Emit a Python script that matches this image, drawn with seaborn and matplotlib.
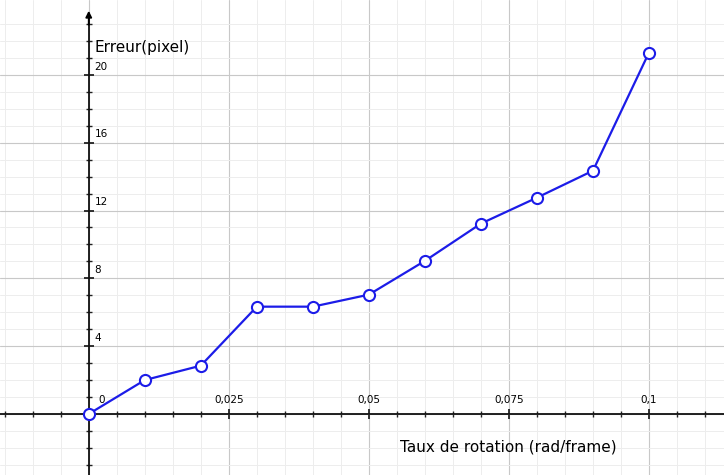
import numpy as np
import pandas as pd
import matplotlib
matplotlib.use('Agg')
import matplotlib.pyplot as plt
import seaborn as sns

# valeurs
taux = [0.0, 0.01, 0.02, 0.03, 0.04, 0.05, 0.06, 0.07, 0.08, 0.09, 0.1]
erreur = [0.0, 2.0, 2.85, 6.33, 6.33, 7.04, 9.03, 11.23, 12.76, 14.35, 21.32]
x_major = [0.025, 0.05, 0.075, 0.1]
x_labels = ['0,025', '0,05', '0,075', '0,1']
y_major = [4, 8, 12, 16, 20]

data = pd.DataFrame({'taux': taux, 'erreur': erreur})

sns.set_style('white')
plt.rcParams['font.family'] = ['DejaVu Sans']
plt.rcParams['text.color'] = 'black'

fig = plt.figure(figsize=(7.24, 4.75), dpi=100)
ax = fig.add_axes([0, 0, 1, 1])

xmin, xmax = -0.01584, 0.11339
ymin, ymax = -3.6, 24.42
ax.set_xlim(xmin, xmax)
ax.set_ylim(ymin, ymax)

# grille type geogebra
ax.set_xticks(np.arange(-0.025, 0.126, 0.025))
ax.set_xticks(np.arange(-0.015, 0.115, 0.005), minor=True)
ax.set_yticks(np.arange(-4, 21, 4))
ax.set_yticks(np.arange(-3, 24, 1), minor=True)
ax.grid(which='major', color='#c8c8c8', lw=0.8)
ax.grid(which='minor', color='#ededed', lw=0.7)
ax.set_axisbelow(True)

# axes passant par l'origine
for s in ['top', 'right']:
    ax.spines[s].set_visible(False)
ax.spines['left'].set_position(('data', 0))
ax.spines['bottom'].set_position(('data', 0))
ax.spines['left'].set_bounds(ymin, 23.5)
for s in ['left', 'bottom']:
    ax.spines[s].set_linewidth(1.3)
    ax.spines[s].set_color('#111111')
    ax.spines[s].set_zorder(1.5)
ax.tick_params(which='both', direction='inout', color='#222222',
               bottom=True, left=True, top=False, right=False,
               labelbottom=False, labelleft=False)
ax.tick_params(which='major', length=7, width=1.3)
ax.tick_params(which='minor', length=5, width=1.0)
ax.annotate('', xy=(0, 23.95), xytext=(0, 22.8),
            arrowprops=dict(arrowstyle='-|>', color='black', lw=1.3, mutation_scale=9))

# etiquettes des graduations
ax.text(0.0018, 0.55, '0', fontsize=7.5, ha='left', va='bottom')
for xv, lab in zip(x_major, x_labels):
    ax.text(xv, 0.55, lab, fontsize=7.5, ha='center', va='bottom')
for yv in y_major:
    ax.text(0.001, yv + 0.2, str(yv), fontsize=7.5, ha='left', va='bottom')

sns.lineplot(data=data, x='taux', y='erreur', ax=ax, color='#1c1ce8', lw=1.6,
             marker='o', markersize=8, markerfacecolor='white',
             markeredgecolor='#1c1ce8', markeredgewidth=1.5, zorder=3,
             clip_on=False)
ax.set_xlabel('')
ax.set_ylabel('')
ax.set_xlim(xmin, xmax)
ax.set_ylim(ymin, ymax)

ax.text(0.0011, 21.6, 'Erreur(pixel)', fontsize=11, ha='left', va='center')
ax.text(0.0556, -1.93, 'Taux de rotation (rad/frame)', fontsize=11,
        ha='left', va='center')

fig.savefig('out.png', dpi=100)
